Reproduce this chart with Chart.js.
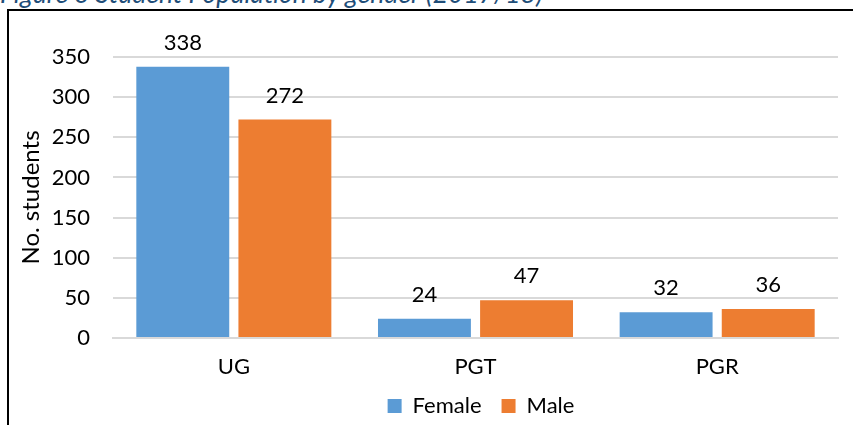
<!DOCTYPE html>
<html>
<head>
<meta charset="utf-8">
<script src="https://cdn.jsdelivr.net/npm/chart.js@4/dist/chart.umd.min.js"></script>
<style>
  html, body { margin: 0; padding: 0; background: #fff; }
  #wrap { position: relative; width: 853px; height: 425px; overflow: hidden; }
  #title { position: absolute; left: 0px; top: -22px; font-family: Lato, sans-serif; font-style: italic; font-size: 26.5px; color: #1F4E79; white-space: nowrap; line-height: 30px; }
  #frame { position: absolute; left: 7px; top: 9px; width: 860px; height: 430px; border-left: 2px solid #000; border-top: 2px solid #000; box-sizing: border-box; }
  #c { position: absolute; left: 0; top: 0; }
</style>
</head>
<body>
<div id="wrap">
  <div id="title">Figure 3 Student Population by gender (2017/18)</div>
  <div id="frame"></div>
  <canvas id="c" width="853" height="425"></canvas>
</div>
<script>
const categories = ["UG", "PGT", "PGR"];
const seriesNames = ["Female", "Male"];
const femaleValues = [338, 24, 32];
const maleValues = [272, 47, 36];
const yTicks = [0, 50, 100, 150, 200, 250, 300, 350];
const yTitle = "No. students";

const FONT = "Lato, 'Open Sans', sans-serif";

const valueLabels = {
  id: 'valueLabels',
  afterDatasetsDraw(chart) {
    const ctx = chart.ctx;
    ctx.save();
    ctx.font = "22px " + FONT;
    ctx.fillStyle = "#000";
    ctx.textAlign = "center";
    ctx.textBaseline = "alphabetic";
    chart.data.datasets.forEach((ds, i) => {
      const meta = chart.getDatasetMeta(i);
      meta.data.forEach((bar, j) => {
        ctx.fillText(String(ds.data[j]), bar.x, bar.y - 17);
      });
    });
    ctx.restore();
  }
};

// Excel centres the legend under the plot area
const legendShift = {
  id: 'legendShift',
  afterLayout(chart) {
    const lg = chart.legend;
    if (!lg) return;
    const dx = 62, dy = -7;
    lg.left += dx; lg.right += dx;
    lg.top += dy; lg.bottom += dy;
  }
};

new Chart(document.getElementById('c'), {
  type: 'bar',
  data: {
    labels: categories,
    datasets: [
      { label: seriesNames[0], data: femaleValues, backgroundColor: '#5B9BD5', borderWidth: 0,
        categoryPercentage: 0.845, barPercentage: 0.91 },
      { label: seriesNames[1], data: maleValues, backgroundColor: '#ED7D31', borderWidth: 0,
        categoryPercentage: 0.845, barPercentage: 0.91 }
    ]
  },
  options: {
    responsive: false,
    animation: false,
    devicePixelRatio: 1,
    layout: { padding: { left: 0, right: 15, top: 57, bottom: -9 } },
    plugins: {
      legend: {
        position: 'bottom',
        labels: { font: { family: FONT, size: 22 }, color: '#000', boxWidth: 14, boxHeight: 14, padding: 20 }
      },
      tooltip: { enabled: false },
      title: { display: false }
    },
    scales: {
      x: {
        grid: { display: false, drawTicks: false },
        border: { display: true, color: '#D9D9D9', width: 2 },
        ticks: { font: { family: FONT, size: 22 }, color: '#000', padding: 16 },
        afterFit(s) { s.height = 44; }
      },
      y: {
        min: 0, max: 350,
        afterBuildTicks(s) { s.ticks = yTicks.map(v => ({ value: v })); },
        grid: { color: '#D9D9D9', lineWidth: 2, drawTicks: false },
        border: { display: false },
        ticks: { font: { family: FONT, size: 22 }, color: '#000', padding: 23 },
        title: { display: true, text: yTitle, font: { family: FONT, size: 24 }, color: '#000', padding: { top: 17, bottom: 0 } },
        afterFit(s) { s.width = 113; }
      }
    }
  },
  plugins: [valueLabels, legendShift]
});
</script>
</body>
</html>
